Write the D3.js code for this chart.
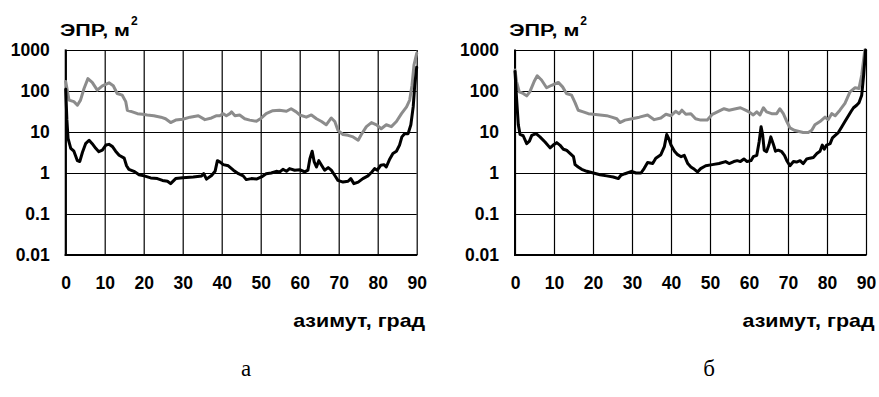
<!DOCTYPE html>
<html>
<head>
<meta charset="utf-8">
<script src="https://cdn.jsdelivr.net/npm/d3@7"></script>
<style>
  html, body { margin: 0; padding: 0; background: #fff; }
  svg { display: block; }
  .tick text { font-family: "Liberation Sans", Arial, sans-serif; font-weight: bold; font-size: 17.5px; fill: #000; }
  .lbl { font-family: "Liberation Sans", Arial, sans-serif; font-weight: bold; fill: #000; }
  .panel { font-family: "Liberation Serif", "Times New Roman", serif; font-size: 23px; fill: #000; }
</style>
</head>
<body>
<script>
// Azimuth ticks and RCS decades
const xTicks = [0, 10, 20, 30, 40, 50, 60, 70, 80, 90];
const yTicks = [0.01, 0.1, 1, 10, 100, 1000];
const yTickLabels = ["0.01", "0.1", "1", "10", "100", "1000"];
const panelLabels = ["а", "б"];
const yTitle = "ЭПР, м";
const xTitle = "азимут, град";

// Panel "а": [azimuth, RCS m²]
const aGray = [[0,170],[0.85,60],[2.1,55],[3.0,45],[3.8,60],[4.7,115],[5.7,200],[6.8,162],[8.1,105],[9.4,134],[11.1,158],[12.2,134],[13.2,87],[14.5,79],[15.4,55],[15.8,34],[17.1,31],[18.4,28],[19.7,27],[20.9,26],[22.6,25],[24.4,23],[25.6,21],[26.9,17],[28.2,19.5],[30,20.5],[31.9,23],[34,25],[35.7,20],[37.4,22],[38.7,25],[39.5,25],[40.4,28],[41.2,25],[42.1,28],[42.5,31],[43.4,25],[44.6,26],[45.9,21],[47.2,19.5],[48.9,18.3],[50.2,22],[51.4,28],[53.1,33],[54.8,34],[56.6,32],[57.8,37],[59.1,31],[60,26],[61.7,23],[63,26],[64.3,21],[65.6,18],[66.8,15],[68.1,22],[69,18],[69.8,11],[71.1,8.7],[72.4,8.3],[73.7,7.6],[75,6.3],[75.8,8.7],[77.1,13.5],[78.4,17],[79.7,15],[80.9,12],[82.2,15],[83.5,13.5],[84.8,18],[86.1,28],[87.4,41],[88.2,60],[88.8,138],[89.3,430],[90,830]];
const aBlack = [[0,110],[0.3,20],[0.6,7],[1.3,4],[2.1,3.4],[3.0,2.0],[3.6,1.9],[4.3,3.2],[5.1,5.2],[6.0,6.3],[6.8,5.2],[7.7,4],[8.5,3.3],[9.4,3.6],[10.3,4.8],[11.1,5],[12.0,4.4],[12.8,3.4],[13.7,2.7],[15.0,2.3],[15.6,1.5],[16.2,1.23],[17.5,1.1],[18.8,0.91],[20.1,0.85],[21.8,0.76],[23.5,0.73],[24.8,0.66],[26.1,0.63],[26.9,0.55],[28.2,0.73],[30,0.77],[32.7,0.8],[34.9,0.85],[35.4,0.97],[36.1,0.71],[37.4,0.87],[38.3,1.1],[38.9,2.0],[39.6,1.85],[40.4,1.6],[41.7,1.5],[43,1.17],[44.3,0.96],[45.5,0.85],[46.3,0.69],[47.6,0.73],[48.9,0.71],[50.2,0.8],[51.4,0.96],[52.7,1.0],[54,1.1],[54.9,1.06],[55.7,1.23],[56.6,1.1],[57.4,1.28],[58.7,1.17],[60,1.2],[61.3,1.07],[62.1,1.17],[62.6,2.2],[63.2,3.4],[63.7,1.9],[64.3,1.4],[64.9,2.0],[65.6,1.55],[66.4,1.17],[67.3,1.35],[68.1,1.17],[69,0.87],[69.8,0.66],[71.1,0.6],[72.4,0.63],[73.1,0.73],[73.9,0.55],[75,0.6],[76.2,0.73],[77.5,0.85],[78.5,1.06],[79.2,1.28],[79.9,1.17],[80.8,1.55],[81.6,1.6],[82.2,1.4],[83.1,2.2],[83.9,3.0],[84.8,3.4],[85.6,4.8],[86.2,7.6],[86.9,9.1],[87.8,9.1],[88.5,15],[89.1,41],[89.5,138],[90,380]];

// Panel "б": [azimuth, RCS m²]
const bGray = [[0,325],[0.4,170],[1.1,95],[2.1,87],[3.0,76],[3.8,95],[4.9,170],[5.7,235],[6.8,185],[8.1,120],[9.4,138],[11.1,162],[12.2,126],[13.2,87],[14.5,79],[15.4,52],[16.2,34],[17.5,31],[18.8,28],[20.1,27],[21.8,26],[23.5,25],[24.8,23],[26.1,21],[26.9,17],[28.2,19.5],[30,21],[31.9,23],[34,26],[35.7,20],[37.4,22],[38.7,27],[40,25],[41.2,32],[42.1,28],[42.8,34],[43.8,27],[45.1,28],[46.3,21],[47.6,19.5],[49.3,19.5],[50.6,27],[51.9,31],[53.6,37],[54.9,34],[56.6,37],[57.8,39],[59.1,34],[60,31],[61.1,26],[62,31],[62.8,26],[63.7,39],[64.5,31],[65.8,28],[67.1,28],[67.9,37],[68.8,28],[69.7,18],[70.5,12.6],[71.6,11],[72.6,10.4],[73.9,9.7],[75.2,9.7],[76.1,11],[76.9,15],[78.2,18],[79.5,23],[80.3,20],[81.2,28],[82.1,25],[83.3,34],[84.6,50],[85.9,95],[87.2,120],[88.2,115],[88.9,245],[89.7,1000]];
const bBlack = [[0,300],[0.4,66],[0.85,15],[1.3,8.7],[2.1,8.1],[3.0,5.2],[3.7,6],[4.3,8.3],[5.4,9.1],[6.4,7.6],[7.7,5.7],[9.0,4.1],[9.8,4.8],[10.7,5.5],[11.5,4.8],[12.4,3.8],[13.2,3.6],[14.1,3.0],[15,2.5],[15.4,1.6],[16.2,1.4],[17.1,1.23],[18.4,1.1],[20.1,1.0],[21.8,0.91],[23.5,0.85],[25.2,0.8],[26.5,0.73],[27.1,0.87],[28.2,0.96],[29.9,1.1],[31,1.0],[32.3,1.0],[33.1,1.28],[34,1.8],[35.3,1.7],[36.1,2.3],[37.4,2.8],[38.3,4.4],[38.9,8.7],[39.4,7],[40,4.8],[40.9,3.4],[41.7,2.8],[42.6,2.5],[43.4,2.7],[44.3,1.7],[45.1,1.4],[46,1.23],[46.8,1.06],[47.6,1.28],[48.9,1.5],[50.6,1.6],[52.3,1.7],[54,1.9],[54.9,1.7],[56.1,1.9],[57,2.0],[57.8,1.9],[58.7,2.2],[59.5,1.9],[60.5,2.0],[61.1,2.5],[62,2.7],[62.6,5.8],[63.1,13.5],[63.5,8.5],[63.9,3.6],[64.5,3.3],[65.1,4.8],[65.6,7.6],[66.2,5.2],[66.8,3.4],[67.5,3.6],[68.4,3.3],[69.1,2.7],[69.7,2.0],[70.5,1.5],[71.4,1.9],[72.2,1.85],[73.1,2.0],[73.9,1.7],[74.8,2.2],[75.6,2.3],[76.5,2.4],[77.4,3.0],[78.2,3.4],[78.8,4.8],[79.3,3.8],[79.9,4.8],[80.8,5.2],[81.4,7.2],[82.1,8.3],[82.9,9.7],[83.8,13.5],[84.6,18],[85.5,25],[86.2,32],[86.8,39],[87.6,45],[88.2,52],[88.9,79],[89.4,245],[89.9,1000]];

const W = 879, H = 397;
const svg = d3.select("body").append("svg").attr("width", W).attr("height", H);

const plotW = 351, plotTop = 50, plotBottom = 255;
const panels = [
  { left: 65.7, gray: aGray, black: aBlack, label: panelLabels[0], labelX: 246 },
  { left: 515, gray: bGray, black: bBlack, label: panelLabels[1], labelX: 709 }
];

panels.forEach(p => {
  const x = d3.scaleLinear().domain([0, 90]).range([p.left, p.left + plotW]);
  const y = d3.scaleLog().domain([0.01, 1000]).range([plotBottom, plotTop]);
  const g = svg.append("g");

  // horizontal grid + decade labels
  const ya = g.append("g").attr("transform", `translate(${p.left},0)`)
    .call(d3.axisLeft(y).tickValues(yTicks).tickFormat((d, i) => yTickLabels[i])
      .tickSize(-plotW).tickPadding(16));
  ya.select(".domain").remove();
  ya.selectAll(".tick line").attr("stroke", "#000").attr("stroke-width", 1.2);

  // vertical grid + azimuth labels
  const xa = g.append("g").attr("transform", `translate(0,${plotBottom})`)
    .call(d3.axisBottom(x).tickValues(xTicks).tickFormat(d3.format("d"))
      .tickSize(-(plotBottom - plotTop)).tickPadding(22));
  xa.select(".domain").remove();
  xa.selectAll(".tick line").attr("stroke", "#000").attr("stroke-width", 1.2);
  xa.selectAll(".tick text").attr("text-anchor", "middle");

  // heavier left and bottom frame
  g.append("line").attr("x1", x(0)).attr("x2", x(0)).attr("y1", plotTop - 0.6).attr("y2", plotBottom + 1)
    .attr("stroke", "#000").attr("stroke-width", 2);
  g.append("line").attr("x1", x(0) - 1).attr("x2", x(90) + 0.6).attr("y1", plotBottom).attr("y2", plotBottom)
    .attr("stroke", "#000").attr("stroke-width", 2.2);

  const line = d3.line().x(d => x(d[0])).y(d => y(d[1]));
  g.append("path").datum(p.gray).attr("d", line)
    .attr("fill", "none").attr("stroke", "#8c8c8c").attr("stroke-width", 3)
    .attr("stroke-linejoin", "round").attr("stroke-linecap", "round");
  g.append("path").datum(p.black).attr("d", line)
    .attr("fill", "none").attr("stroke", "#000").attr("stroke-width", 3)
    .attr("stroke-linejoin", "round").attr("stroke-linecap", "round");

  // axis titles
  const tx = p.left - 5.7;
  g.append("text").attr("class", "lbl").attr("x", tx).attr("y", 36).attr("font-size", 16)
    .attr("textLength", 70).attr("lengthAdjust", "spacingAndGlyphs").text(yTitle);
  g.append("text").attr("class", "lbl").attr("x", tx + 71).attr("y", 25).attr("font-size", 12).text("2");

  g.append("text").attr("class", "lbl").attr("x", p.left + plotW + 8.5 - 132).attr("y", 327)
    .attr("font-size", 19).attr("textLength", 132).attr("lengthAdjust", "spacingAndGlyphs").text(xTitle);

  g.append("text").attr("class", "panel").attr("x", p.labelX).attr("y", 376)
    .attr("text-anchor", "middle").text(p.label);
});
</script>
</body>
</html>
